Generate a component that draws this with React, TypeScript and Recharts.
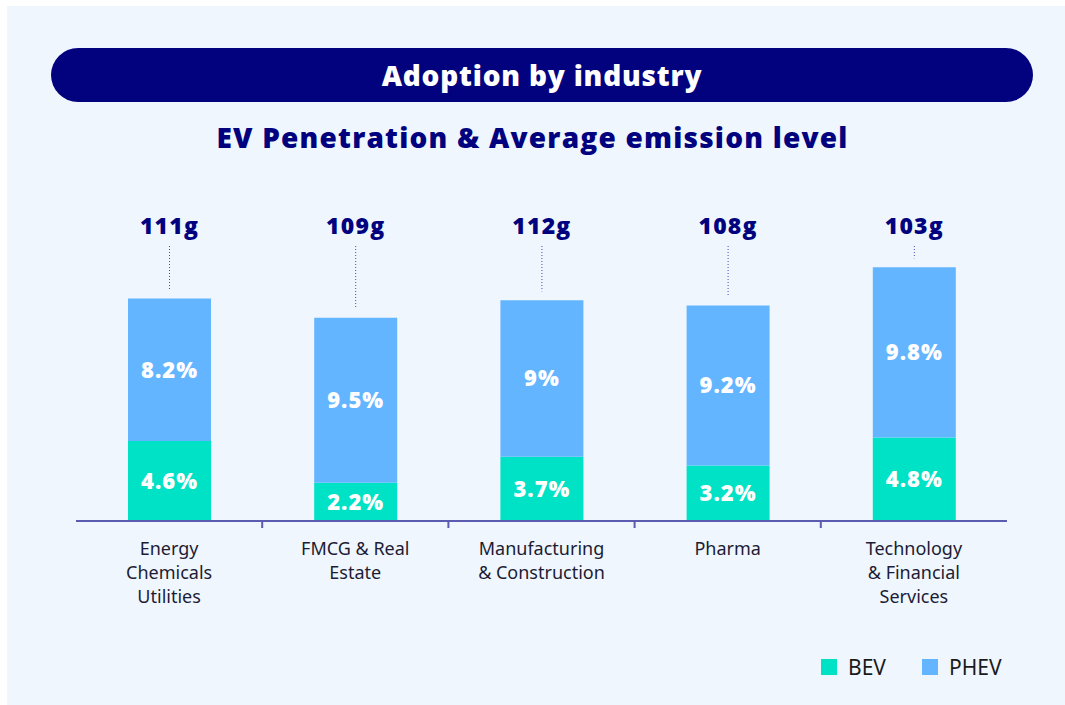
import { BarChart, Bar, XAxis, YAxis, LabelList } from "recharts";

const industries = [
  "Energy\nChemicals\nUtilities",
  "FMCG & Real\nEstate",
  "Manufacturing\n& Construction",
  "Pharma",
  "Technology\n& Financial\nServices",
];
const bevShare = [4.6, 2.2, 3.7, 3.2, 4.8];
const phevShare = [8.2, 9.5, 9, 9.2, 9.8];
const emissions = ["111g", "109g", "112g", "108g", "103g"];

const BEV_COLOR = "#00e2c5";
const PHEV_COLOR = "#64b5ff";
const NAVY = "#02027e";
const HEAD_FONT = "'Open Sans', 'Noto Sans', sans-serif";

const data = industries.map((name, i) => ({
  name,
  bev: bevShare[i],
  phev: phevShare[i],
  emission: emissions[i],
}));

const CHART_W = 1065;
const CHART_H = 705;
const AXIS_H = 30;
const margin = { top: 243, right: 58, bottom: 184 - AXIS_H, left: 76 };
const plotW = CHART_W - margin.left - margin.right;
const bandW = plotW / industries.length;

const IndustryTick = (props: any) => {
  const { x, y, payload, index } = props;
  const lines = String(payload.value).split("\n");
  return (
    <g>
      {index < industries.length - 1 && (
        <line x1={x + bandW / 2} x2={x + bandW / 2} y1={y - 8} y2={y - 1} stroke="#5b5bb0" strokeWidth={2} />
      )}
      <text x={x} y={y + 26} textAnchor="middle" fill="#1c1c34" fontSize={18} fontFamily="'Noto Sans', sans-serif">
        {lines.map((l, i) => (
          <tspan key={i} x={x} dy={i === 0 ? 0 : 24}>
            {l}
          </tspan>
        ))}
      </text>
    </g>
  );
};

const EmissionLabel = (props: any) => {
  const { x, y, width, value } = props;
  const cx = x + width / 2;
  return (
    <g>
      <text x={cx} y={margin.top - 9} textAnchor="middle" fill={NAVY} fontSize={23} fontWeight={800} fontFamily={HEAD_FONT} letterSpacing={1.2}>
        {value}
      </text>
      <line x1={cx} x2={cx} y1={margin.top + 3} y2={y - 9} stroke="#4a4ab0" strokeWidth={1} strokeDasharray="1 2" />
    </g>
  );
};

const pct = (v: any) => `${v}%`;

const App = () => {
  return (
    <div style={{ position: "fixed", left: 0, top: 0, width: CHART_W, height: CHART_H, background: "#ffffff" }}>
      <div style={{ position: "absolute", left: 7, top: 6, right: 0, bottom: 0, background: "#eff6fe" }} />
      <div
        style={{
          position: "absolute",
          left: 51,
          top: 48,
          width: 982,
          height: 54,
          borderRadius: 27,
          background: NAVY,
          color: "#fff",
          fontFamily: HEAD_FONT,
          fontWeight: 800,
          fontSize: 28,
          letterSpacing: 0.8,
          display: "flex",
          alignItems: "center",
          justifyContent: "center",
        }}
      >
        Adoption by industry
      </div>
      <div
        style={{
          position: "absolute",
          left: 0,
          width: CHART_W,
          top: 118,
          textAlign: "center",
          color: NAVY,
          fontFamily: HEAD_FONT,
          fontWeight: 800,
          fontSize: 28,
          letterSpacing: 1.2,
        }}
      >
        EV Penetration &amp; Average emission level
      </div>
      <div style={{ position: "absolute", left: 0, top: 0 }}>
        <BarChart width={CHART_W} height={CHART_H} data={data} margin={margin} barSize={83}>
          <XAxis
            dataKey="name"
            interval={0}
            height={AXIS_H}
            tickLine={false}
            axisLine={{ stroke: "#5b5bb0", strokeWidth: 2 }}
            tick={<IndustryTick />}
          />
          <YAxis hide domain={[0, 16]} />
          <Bar dataKey="bev" stackId="a" fill={BEV_COLOR} isAnimationActive={false}>
            <LabelList dataKey="bev" position="center" formatter={pct} fill="#fff" fontSize={22} fontWeight={800} fontFamily={HEAD_FONT} letterSpacing={1} />
          </Bar>
          <Bar dataKey="phev" stackId="a" fill={PHEV_COLOR} isAnimationActive={false}>
            <LabelList dataKey="phev" position="center" formatter={pct} fill="#fff" fontSize={22} fontWeight={800} fontFamily={HEAD_FONT} letterSpacing={1} />
            <LabelList dataKey="emission" content={<EmissionLabel />} />
          </Bar>
        </BarChart>
      </div>
      <div
        style={{
          position: "absolute",
          left: 821,
          top: 653,
          display: "flex",
          alignItems: "center",
          fontFamily: "'Noto Sans', sans-serif",
          fontSize: 21,
          color: "#1a1a1a",
        }}
      >
        <span style={{ width: 16, height: 16, background: BEV_COLOR, marginRight: 11 }} />
        <span style={{ marginRight: 36 }}>BEV</span>
        <span style={{ width: 16, height: 16, background: PHEV_COLOR, marginRight: 11 }} />
        <span>PHEV</span>
      </div>
    </div>
  );
};

export default App;
